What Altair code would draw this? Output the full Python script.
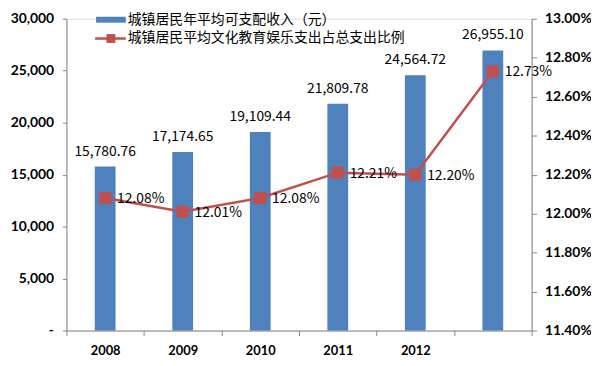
import altair as alt
import pandas as pd

years = ["2008", "2009", "2010", "2011", "2012", "2013"]
income = [15780.76, 17174.65, 19109.44, 21809.78, 24564.72, 26955.10]
ratio = [0.1208, 0.1201, 0.1208, 0.1221, 0.1220, 0.1273]
income_labels = ["15,780.76", "17,174.65", "19,109.44", "21,809.78", "24,564.72", "26,955.10"]
ratio_labels = ["12.08%", "12.01%", "12.08%", "12.21%", "12.20%", "12.73%"]
series_names = ["城镇居民年平均可支配收入（元）", "城镇居民平均文化教育娱乐支出占总支出比例"]

df = pd.DataFrame({"year": years, "income": income, "ratio": ratio,
                   "ilab": income_labels, "rlab": ratio_labels})

BLUE = "#4F81BD"
RED = "#C0504D"
AX = "#868686"
LAT = "Lato"
CJK = "Noto Sans CJK SC"

xenc = alt.X("year:N", title=None, sort=years,
             scale=alt.Scale(paddingInner=0, paddingOuter=0),
             axis=alt.Axis(labelExpr="datum.value == '2013' ? '' : datum.value",
                           tickBand="extent", labelAngle=0, labelFont=LAT,
                           labelFontWeight="bold", labelFontSize=13, labelColor="#000",
                           labelPadding=9, tickSize=5, domainColor=AX, tickColor=AX))

base = alt.Chart(df)

left_y = alt.Y("income:Q", title=None,
               scale=alt.Scale(domain=[0, 30000], nice=False),
               axis=alt.Axis(values=[0, 5000, 10000, 15000, 20000, 25000, 30000],
                             labelExpr="datum.value == 0 ? '-' : format(datum.value, ',')",
                             grid=False, labelFont=LAT, labelFontWeight="bold",
                             labelFontSize=14, labelColor="#000", tickSize=4,
                             labelPadding=9, domainColor=AX, tickColor=AX))

bars = base.mark_bar(size=21, color=BLUE).encode(x=xenc, y=left_y)
bar_text = base.mark_text(dy=-15, font=CJK, fontSize=14, color="#000").encode(
    x=xenc, y=left_y, text="ilab:N")
left = alt.layer(bars, bar_text)

right_y = alt.Y("ratio:Q", title=None,
                scale=alt.Scale(domain=[0.114, 0.13], nice=False, zero=False),
                axis=alt.Axis(orient="right", format=".2%",
                              values=[0.114, 0.116, 0.118, 0.12, 0.122, 0.124, 0.126, 0.128, 0.13],
                              grid=False, labelFont=LAT, labelFontWeight="bold",
                              labelFontSize=14, labelColor="#000", tickSize=5,
                              labelPadding=8, domainColor=AX, tickColor=AX))

line = base.mark_line(color=RED, strokeWidth=2.5).encode(x=xenc, y=right_y)
pts = base.mark_square(color=RED, size=150, opacity=1).encode(x=xenc, y=right_y)
line_text = base.mark_text(align="left", dx=12, dy=1, font=CJK, fontSize=14, color="#000").encode(
    x=xenc, y=right_y, text="rlab:N")
right = alt.layer(line, pts, line_text)

leg = pd.DataFrame({"name": series_names})
leg1 = alt.Chart(leg.iloc[[0]])
leg2 = alt.Chart(leg.iloc[[1]])
legend = alt.layer(
    leg1.mark_rule(color=BLUE, strokeWidth=6).encode(x=alt.value(30), x2=alt.value(60), y=alt.value(1)),
    leg1.mark_text(align="left", baseline="middle", font=CJK, fontSize=14, color="#000").encode(
        x=alt.value(62), y=alt.value(1), text="name:N"),
    leg2.mark_rule(color=RED, strokeWidth=2.5).encode(x=alt.value(29), x2=alt.value(60), y=alt.value(20)),
    leg2.mark_square(color=RED, size=80, opacity=1).encode(x=alt.value(45), y=alt.value(20)),
    leg2.mark_text(align="left", baseline="middle", font=CJK, fontSize=14, color="#000").encode(
        x=alt.value(62), y=alt.value(20), text="name:N"),
)

chart = alt.layer(left, right, legend).resolve_scale(y="independent").properties(
    width=470, height=315,
    autosize=alt.AutoSizeParams(type="none"),
    padding={"left": 59, "top": 9, "right": 60, "bottom": 34},
).configure_view(stroke=None).configure(background="white")

chart.save("out.html", embed_options={"renderer": "svg", "actions": False})
